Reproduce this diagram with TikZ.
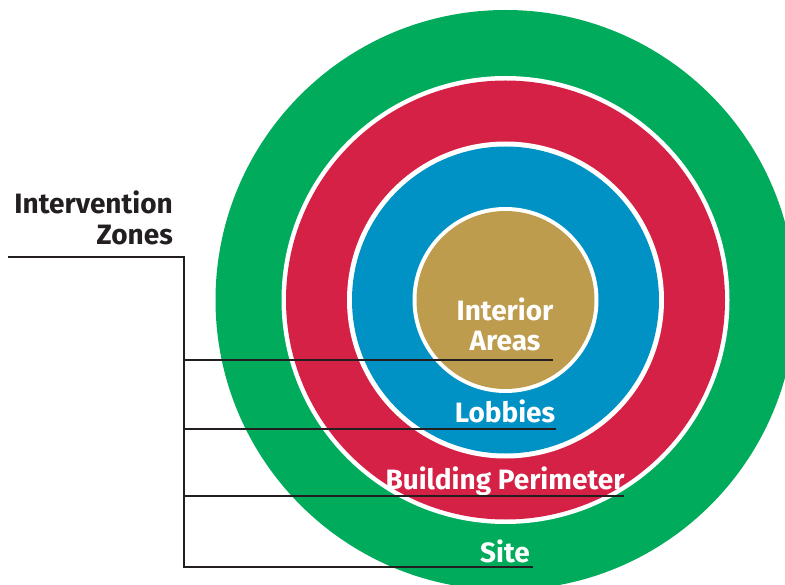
\documentclass[tikz,border=0pt]{standalone}
\usepackage{fontspec}
\setmainfont{Fira Sans}
\definecolor{zsite}{HTML}{00AB5B}
\definecolor{zperim}{HTML}{D52146}
\definecolor{zlobby}{HTML}{0092C5}
\definecolor{zinner}{HTML}{BE9C4E}
\definecolor{ink}{HTML}{231F20}
\begin{document}
\begin{tikzpicture}[x=1pt,y=-1pt,
  zlabel/.style={text=white,font=\bfseries\fontsize{28}{30}\selectfont,inner sep=0pt,anchor=base},
  title/.style={text=ink,font=\bfseries\fontsize{28}{30.5}\selectfont,inner sep=0pt,align=right},
  leader/.style={draw=ink,line width=2.2pt}]
\useasboundingbox (0,0) rectangle (785,585);
% concentric zones, separated by thin white rings
\fill[zsite]  (505.5,300) circle (290);
\fill[white]  (505.5,300) circle (224);
\fill[zperim] (505.5,300) circle (219.5);
\fill[white]  (505.5,300) circle (158.5);
\fill[zlobby] (505.5,300) circle (153.5);
\fill[white]  (505.5,300) circle (93);
\fill[zinner] (505.5,300) circle (89);
% zone labels
\node[zlabel] (interior) at (505,321) {Interior};
\node[zlabel] (areas) at (505,351) {Areas};
\node[zlabel] (lobbies) at (505,423) {Lobbies};
\node[zlabel] (perimeter) at (505,489) {Building Perimeter};
\node[zlabel] (site) at (505,562) {Site};
% heading
\node[title,anchor=north east] (heading) at (173,191) {Intervention\\Zones};
% leader lines
\coordinate (lstart) at (8,257);
\coordinate (lcorner) at (184,257);
\coordinate (j1) at (184,360);
\coordinate (j2) at (184,429);
\coordinate (j3) at (184,496);
\coordinate (j4) at (184,567);
\coordinate (e1) at (553,360);
\coordinate (e2) at (556,429);
\coordinate (e3) at (624,496);
\coordinate (e4) at (533,567);
\draw[leader] (lstart) -- (lcorner) -- (j4) -- (e4);
\draw[leader] (j1) -- (e1);
\draw[leader] (j2) -- (e2);
\draw[leader] (j3) -- (e3);
\end{tikzpicture}
\end{document}
